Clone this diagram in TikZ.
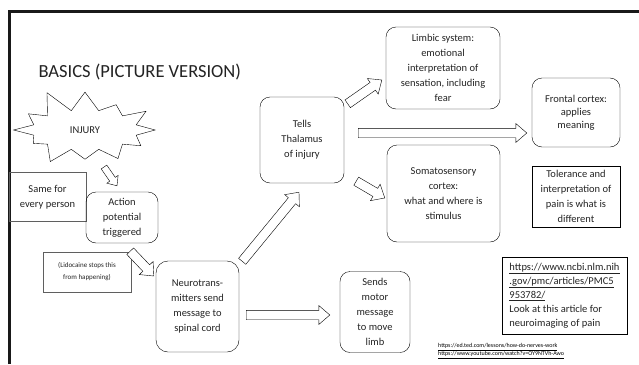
\documentclass[tikz,border=0pt]{standalone}
\usepackage{fontspec}
\setmainfont{Carlito}
\usetikzlibrary{shapes.symbols, calc, positioning}
\definecolor{inkgray}{RGB}{35,35,35}
\definecolor{framegray}{RGB}{95,95,95}
\newcommand{\boxfont}{\fontsize{10.5}{15}\selectfont}
\tikzset{
  rbox/.style={draw, rounded corners=10pt, align=center, font=\boxfont, text=inkgray, inner sep=2pt},
  sqbox/.style={draw, align=center, font=\boxfont, text=inkgray, inner sep=2pt},
  notebox/.style={sqbox, draw=framegray},
  burst/.style={starburst, draw, starburst points=12, starburst point height=24pt, random starburst=11, font=\boxfont, text=inkgray},
  barrow/.style={draw, fill=white, line join=miter},
  frameline/.style={line width=3pt, black!90},
}
% block arrow between two points, optional size factor
\newcommand{\blockarrow}[3][1]{%
  \pgfmathsetmacro{\bws}{4.7*#1}%
  \pgfmathsetmacro{\bwh}{9.5*#1}%
  \pgfmathsetmacro{\bhl}{11*#1}%
  \path (#2) coordinate (ba-s) (#3) coordinate (ba-e);
  \path ($(ba-e)!\bhl pt!(ba-s)$) coordinate (ba-b);
  \draw[barrow] ($(ba-s)!\bws pt!90:(ba-e)$) -- ($(ba-b)!\bws pt!90:(ba-e)$)
    -- ($(ba-b)!\bwh pt!90:(ba-e)$) -- (ba-e) -- ($(ba-b)!\bwh pt!-90:(ba-e)$)
    -- ($(ba-b)!\bws pt!-90:(ba-e)$) -- ($(ba-s)!\bws pt!-90:(ba-e)$) -- cycle;
}
\begin{document}
\begin{tikzpicture}[x=1pt, y=-1pt]
  \useasboundingbox (0,0) rectangle (639,364);
  \draw[frameline] (9.5,364) -- (9.5,11) -- (639,11);
  \node[anchor=west, font=\fontsize{18.5}{22}\selectfont, text=inkgray] (title) at (35,72) {BASICS (PICTURE VERSION)};

  % left column
  \node[burst, minimum width=154pt, minimum height=88pt] (injury) at (85,130) {INJURY};
  \node[notebox, minimum width=77pt, minimum height=49pt] (same) at (47.5,197) {Same for\\every person};
  \node[rbox, minimum width=72pt, minimum height=51pt] (act) at (122,217.5) {Action\\potential\\triggered};
  \node[notebox, font=\fontsize{7}{12}\selectfont, minimum width=88pt, minimum height=40pt] (lido) at (87,272) {(Lidocaine stops this\\from happening)};
  \node[rbox, rounded corners=12pt, minimum width=83pt, minimum height=91pt] (neuro) at (197.5,306.5) {Neurotrans-\\mitters send\\message to\\spinal cord};

  % middle
  \node[rbox, minimum width=84pt, minimum height=86pt] (thal) at (302,140) {Tells\\Thalamus\\of injury};
  \node[rbox, minimum width=70pt, minimum height=81pt] (sends) at (375,312) {Sends\\motor\\message\\to move\\limb};

  % right
  \node[rbox, minimum width=114pt, minimum height=82pt] (limbic) at (443,68) {Limbic system:\\emotional\\interpretation of\\sensation, including\\fear};
  \node[rbox, minimum width=113pt, minimum height=97pt] (soma) at (443.5,193.5) {Somatosensory\\cortex:\\what and where is\\stimulus};
  \node[rbox, font=\fontsize{10.5}{13}\selectfont, minimum width=88pt, minimum height=69pt] (frontal) at (576,112.5) {Frontal cortex:\\applies\\meaning};
  \node[sqbox, minimum width=88pt, minimum height=61pt] (toler) at (576,196.5) {Tolerance and\\interpretation of\\pain is what is\\different};
  \node[sqbox, align=left, font=\fontsize{10.5}{14}\selectfont, minimum width=125pt, minimum height=77pt] (link) at (564.5,295.5)
    {\underline{https://www.ncbi.nlm.nih}\\\underline{.gov/pmc/articles/PMC5}\\\underline{953782/}\\Look at this article for\\neuroimaging of pain};
  \node[anchor=north west, align=left, inner sep=0pt, font=\fontsize{6}{8}\selectfont] (refs) at (438,343)
    {\underline{https://ed.ted.com/lessons/how-do-nerves-work}\\\underline{https://www.youtube.com/watch?v=OY9NTVh-Awo}};

  % block arrows
  \blockarrow[0.72]{$(injury.center)+(19,37)$}{$(act.north)+(-5,-6)$}
  \blockarrow{$(act.south east)+(-28,8)$}{$(neuro.west)+(-2,-30.5)$}
  \blockarrow{$(neuro.north east)+(3,0.5)$}{$(thal.south)+(-3,9)$}
  \blockarrow{$(neuro.east)+(7,8.5)$}{$(sends.west)+(-10,3)$}
  \blockarrow{$(thal.north east)+(3.5,7)$}{$(limbic.west)+(-4,12)$}
  \blockarrow{$(thal.east)+(14,-7)$}{$(frontal.west)+(-5,20.5)$}
  \blockarrow{$(thal.south east)+(12,-2)$}{$(soma.west)+(-2,4.5)$}
\end{tikzpicture}
\end{document}
